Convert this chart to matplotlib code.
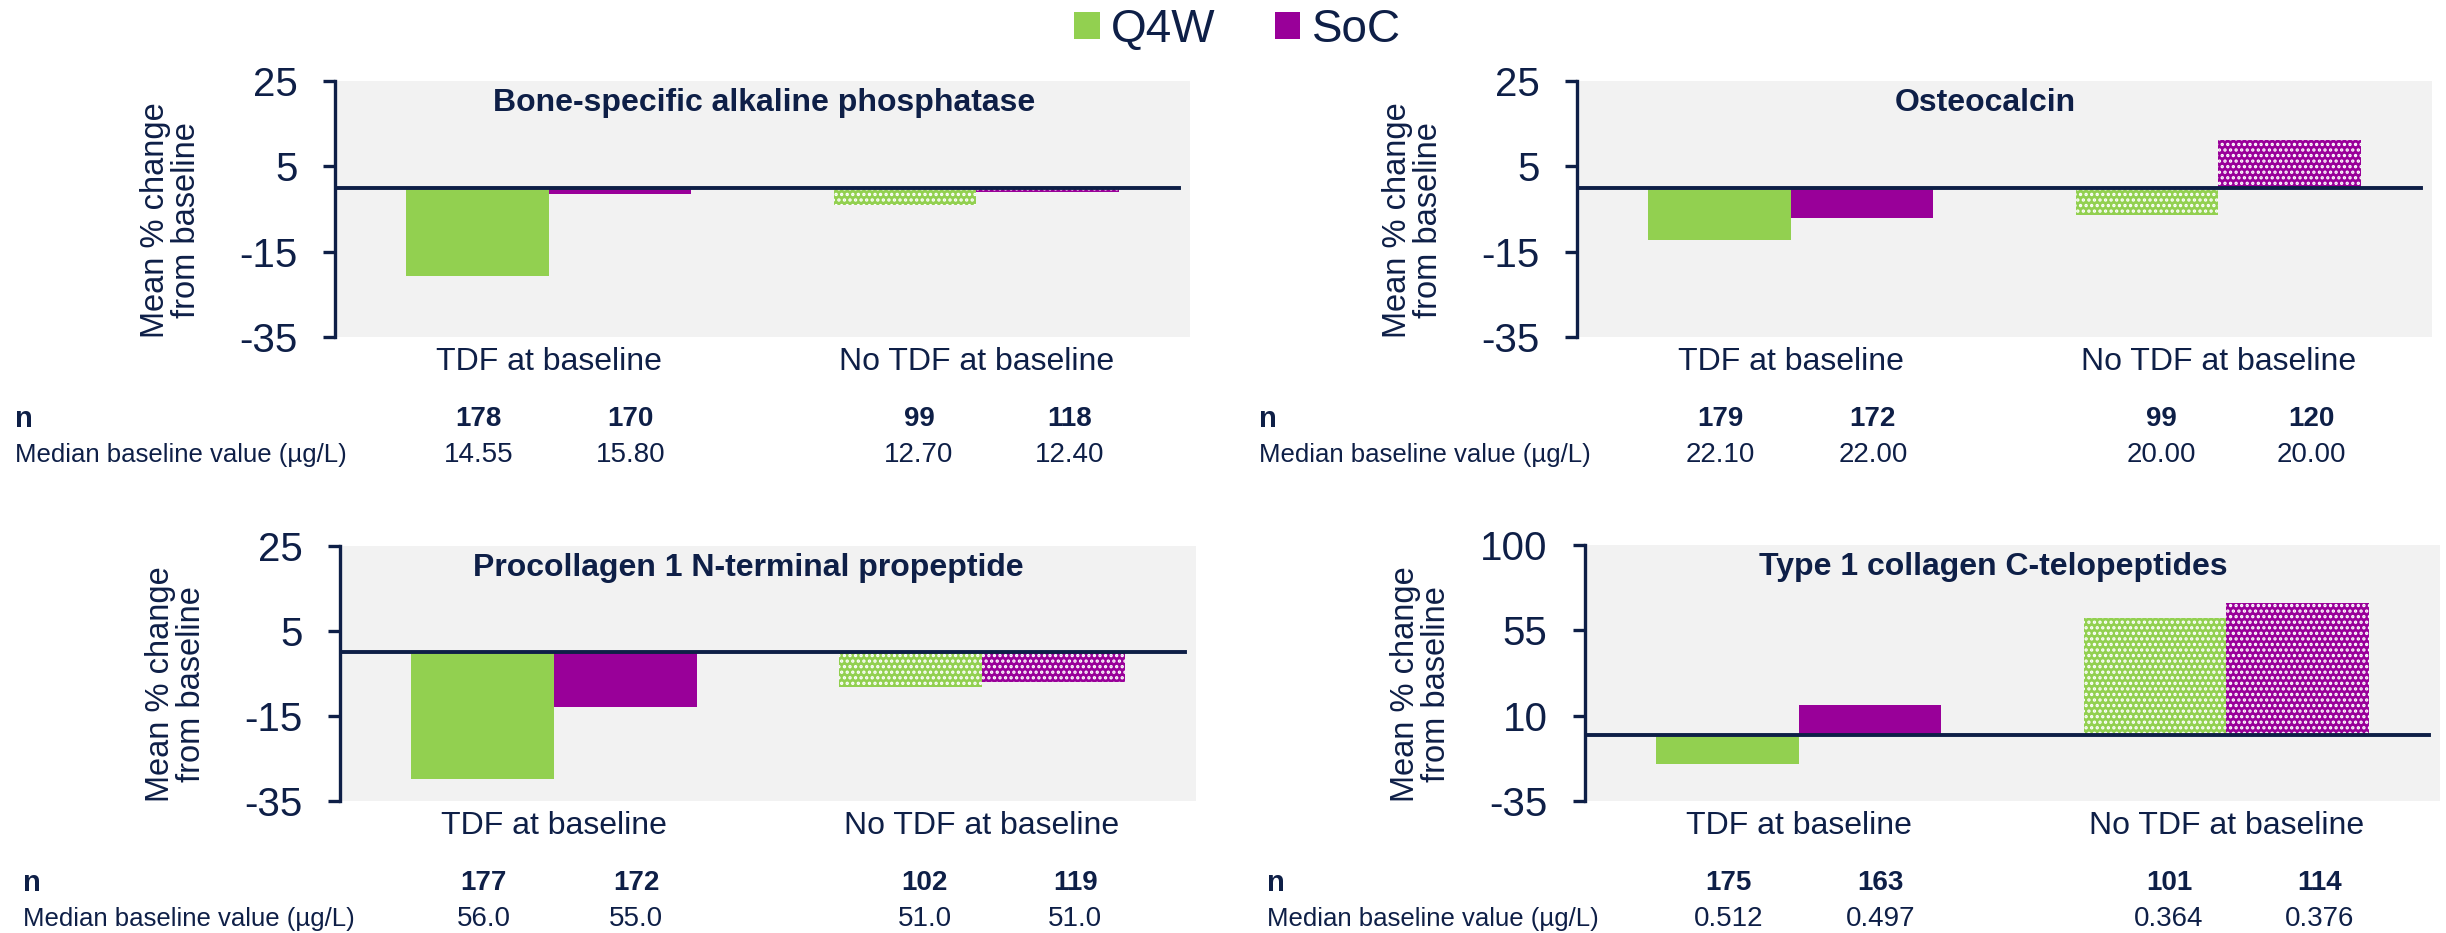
import matplotlib
matplotlib.use('Agg')
import matplotlib.pyplot as plt
from matplotlib.patches import Patch

plt.rcParams['font.family'] = ['Liberation Sans', 'DejaVu Sans']
plt.rcParams['hatch.linewidth'] = 1.6

# ---- data ----
titles = ['Bone-specific alkaline phosphatase', 'Osteocalcin',
          'Procollagen 1 N-terminal propeptide', 'Type 1 collagen C-telopeptides']
groups = ['TDF at baseline', 'No TDF at baseline']
series = ['Q4W', 'SoC']
q4w_change = [[-20.6, -4.0], [-12.3, -6.3], [-29.8, -8.2], [-15.6, 61.5]]
soc_change = [[-1.5, -1.0], [-7.0, 11.2], [-12.9, -7.0], [15.6, 69.3]]
y_ticks = [[25, 5, -15, -35], [25, 5, -15, -35], [25, 5, -15, -35], [100, 55, 10, -35]]
n_values = [['178', '170', '99', '118'], ['179', '172', '99', '120'],
            ['177', '172', '102', '119'], ['175', '163', '101', '114']]
median_values = [['14.55', '15.80', '12.70', '12.40'], ['22.10', '22.00', '20.00', '20.00'],
                 ['56.0', '55.0', '51.0', '51.0'], ['0.512', '0.497', '0.364', '0.376']]

# ---- styling / layout ----
W, H = 2446, 933
navy = '#0e1f47'
green = '#92d050'
purple = '#990099'
bg = '#f2f2f2'
# axes boxes in pixels: left, top, right, bottom
boxes = [(335, 81, 1190, 337), (1577, 81, 2432, 337),
         (340, 546, 1196, 801), (1585, 545, 2440, 801)]
title_x = [0.502, 0.478, 0.477, 0.477]
row_label_x = [15, 1259, 23, 1267]
col_frac = [0.168, 0.346, 0.683, 0.859]
bw = 0.333

fig = plt.figure(figsize=(W / 100, H / 100), dpi=100)

for k in range(4):
    l, t, r, b = boxes[k]
    ax = fig.add_axes([l / W, 1 - b / H, (r - l) / W, (b - t) / H])
    ax.set_facecolor(bg)
    ticks = y_ticks[k]
    ax.set_ylim(min(ticks), max(ticks))
    ax.set_xlim(-0.5, 1.5)

    for i in range(2):
        hatch = '...' if i == 1 else None
        ax.bar(i - bw / 2, q4w_change[k][i], bw, color=green, hatch=hatch,
               edgecolor='white' if hatch else green, linewidth=0, zorder=2)
        ax.bar(i + bw / 2, soc_change[k][i], bw, color=purple, hatch=hatch,
               edgecolor='white' if hatch else purple, linewidth=0, zorder=2)

    ax.axhline(0, xmin=0, xmax=0.987, color=navy, lw=2.8, zorder=3)

    for s in ['top', 'right', 'bottom']:
        ax.spines[s].set_visible(False)
    ax.spines['left'].set_color(navy)
    ax.spines['left'].set_linewidth(2.4)

    ax.set_yticks(ticks)
    ax.set_yticklabels([str(v) for v in ticks])
    ax.tick_params(axis='y', length=9, width=2.4, color=navy, pad=18,
                   labelsize=29, labelcolor=navy)
    ax.set_xticks([0, 1])
    ax.set_xticklabels(groups)
    ax.tick_params(axis='x', length=0, pad=7, labelsize=23, labelcolor=navy)

    ax.text(title_x[k], 0.915, titles[k], transform=ax.transAxes, ha='center',
            va='center', fontsize=23, fontweight='bold', color=navy)
    ax.text(-0.192, 0.457, 'Mean % change\nfrom baseline', transform=ax.transAxes,
            rotation=90, ha='center', va='center', fontsize=23.5, color=navy,
            linespacing=1.0)

    # n / median table under the panel
    yn = 1 - (b + 82) / H
    ym = 1 - (b + 118) / H
    fig.text(row_label_x[k] / W, yn, 'n', ha='left', va='center',
             fontsize=21, fontweight='bold', color=navy)
    fig.text(row_label_x[k] / W, ym, 'Median baseline value (µg/L)', ha='left',
             va='center', fontsize=18.5, color=navy)
    for j in range(4):
        xf = (l + col_frac[j] * (r - l)) / W
        fig.text(xf, yn, n_values[k][j], ha='center', va='center',
                 fontsize=20, fontweight='bold', color=navy)
        fig.text(xf, ym, median_values[k][j], ha='center', va='center',
                 fontsize=20, color=navy)

handles = [Patch(facecolor=green, edgecolor='none'), Patch(facecolor=purple, edgecolor='none')]
fig.legend(handles, series, loc='center', bbox_to_anchor=(0.506, 0.968), ncol=2,
           frameon=False, fontsize=33, handlelength=0.55, handleheight=0.55,
           handletextpad=0.25, columnspacing=1.3, labelcolor=navy)

fig.savefig('out.png', dpi=100, facecolor='white')
